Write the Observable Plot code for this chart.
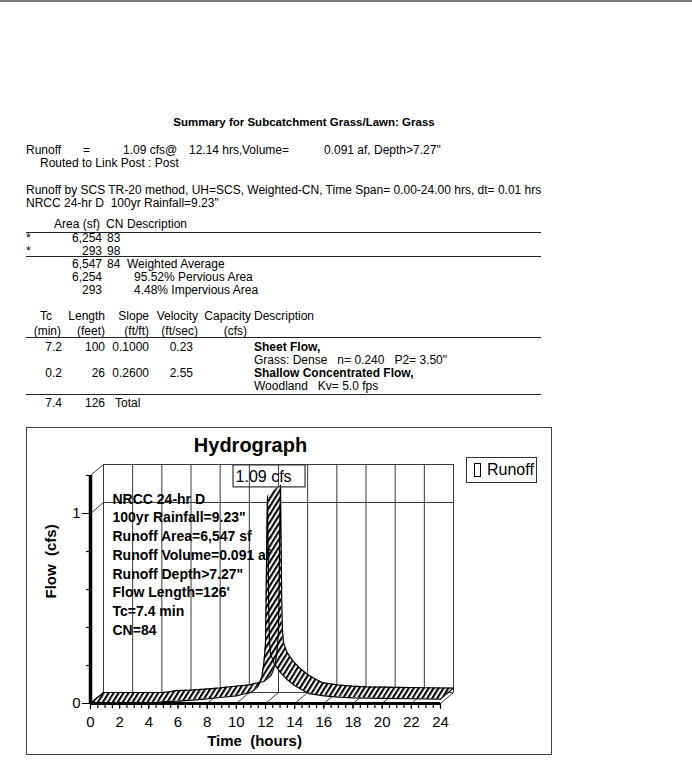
<!DOCTYPE html>
<html><head><meta charset="utf-8">
<script src="https://cdn.jsdelivr.net/npm/d3@7"></script>
<script src="https://cdn.jsdelivr.net/npm/@observablehq/plot@0.6"></script>
<style>
html,body{margin:0;padding:0;background:#fff;}
#page{position:relative;width:692px;height:761px;overflow:hidden;font-family:"Liberation Sans",Arial,sans-serif;font-size:12px;color:#000;}
.t{position:absolute;white-space:pre;line-height:1;transform:translateY(-50%);}
.hr{position:absolute;height:0;border-top:1.5px solid #222;}
#chart{position:absolute;left:26px;top:427px;width:526px;height:328px;}
#frame{position:absolute;left:26px;top:427px;width:526px;height:328px;box-sizing:border-box;border:1px solid #444;pointer-events:none;}
#legend{position:absolute;left:466px;top:457px;width:71px;height:26px;box-sizing:border-box;border:1px solid #333;overflow:hidden;background:#fff;}
#legend .sw{position:absolute;left:7px;top:5px;width:7px;height:14px;box-sizing:border-box;border:1px solid #000;}
#legend .lb{position:absolute;left:20px;top:12px;transform:translateY(-50%);font-size:16px;line-height:1;white-space:pre;}
</style></head><body><div id="page"><div id="chart"></div><div id="frame"></div></div>
<script>
// ---------------- data ----------------
const reportTitle = "Summary for Subcatchment Grass/Lawn: Grass";
const runoffLine = ["Runoff", "=", "1.09 cfs@", "12.14 hrs,", "Volume=", "0.091 af,", "Depth>7.27\""];
const routedLine = "Routed to Link Post : Post";
const methodLines = ["Runoff by SCS TR-20 method, UH=SCS, Weighted-CN, Time Span= 0.00-24.00 hrs, dt= 0.01 hrs",
                     "NRCC 24-hr D  100yr Rainfall=9.23\""];
const areaHeader = ["Area (sf)", "CN", "Description"];
const areaRows = [["*", "6,254", "83"], ["*", "293", "98"]];
const areaSummary = [["6,547", "84", "Weighted Average"], ["6,254", "", "95.52% Pervious Area"], ["293", "", "4.48% Impervious Area"]];
const tcHeader1 = ["Tc", "Length", "Slope", "Velocity", "Capacity", "Description"];
const tcHeader2 = ["(min)", "(feet)", "(ft/ft)", "(ft/sec)", "(cfs)"];
const tcRows = [
  {tc: "7.2", len: "100", slope: "0.1000", vel: "0.23", desc: "Sheet Flow,", sub: "Grass: Dense   n= 0.240   P2= 3.50\""},
  {tc: "0.2", len: "26", slope: "0.2600", vel: "2.55", desc: "Shallow Concentrated Flow,", sub: "Woodland   Kv= 5.0 fps"}
];
const tcTotal = ["7.4", "126", "Total"];

// hydrograph (hours, cfs)
const times = [0,1,2,3,4,4.5,5,6,7,8,9,10,10.5,11,11.5,11.75,11.9,12,12.05,12.1,12.14,12.18,12.22,12.27,12.35,12.6,13,13.5,14,14.5,15,16,17,18,20,22,24];
const flows = [0,0,0,0,0,0.003,0.01,0.013,0.018,0.024,0.033,0.04,0.05,0.058,0.09,0.14,0.22,0.32,0.6,0.95,1.09,0.8,0.5,0.33,0.26,0.21,0.165,0.125,0.095,0.072,0.052,0.04,0.034,0.03,0.027,0.025,0.023];
const majorHours = [0,2,4,6,8,10,12,14,16,18,20,22,24];
const minorHours = d3.range(0, 24.001, 0.5);
const majorFlows = [0, 1];
const minorFlows = [0.2, 0.4, 0.6, 0.8, 1.2];
const backFlowGrid = [0, 1, 1.2];
const stormLines = ["NRCC 24-hr D", "100yr Rainfall=9.23\"", "Runoff Area=6,547 sf", "Runoff Volume=0.091 af",
                    "Runoff Depth>7.27\"", "Flow Length=126'", "Tc=7.4 min", "CN=84"];
const chartTitle = "Hydrograph";
const xTitle = "Time  (hours)";
const yTitle = "Flow  (cfs)";
const legendLabel = "Runoff";
const peak = {t: 12.14, q: 1.09};

// ---------------- report text ----------------
const page = document.getElementById("page");
function txt(s, x, y, o = {}) {
  const d = document.createElement("div");
  d.className = "t";
  d.textContent = s;
  if (o.align === "right") d.style.right = (692 - x) + "px";
  else d.style.left = x + "px";
  if (o.align === "center") d.style.transform = "translate(-50%,-50%)";
  d.style.top = y + "px";
  if (o.bold) d.style.fontWeight = "bold";
  if (o.size) d.style.fontSize = o.size + "px";
  page.appendChild(d);
}
function hr(x1, x2, y) {
  const d = document.createElement("div");
  d.className = "hr";
  d.style.left = x1 + "px"; d.style.width = (x2 - x1) + "px"; d.style.top = y + "px";
  page.appendChild(d);
}
const topRule = document.createElement("div");
topRule.style.cssText = "position:absolute;left:0;top:0;width:692px;height:2px;background:#7a7a7a;";
page.appendChild(topRule);

txt(reportTitle, 304, 123, {align: "center", bold: true, size: 11.5});
const l1x = [26, 83, 123, 189, 242, 324, 374];
runoffLine.forEach((s, i) => txt(s, l1x[i], 150));
txt(routedLine, 40, 163);
txt(methodLines[0], 26, 190);
txt(methodLines[1], 26, 202.5);
txt(areaHeader[0], 100, 224, {align: "right"});
txt(areaHeader[1], 106, 224);
txt(areaHeader[2], 127, 224);
hr(26, 541, 232);
areaRows.forEach((r, i) => {
  const y = 238 + i * 13;
  txt(r[0], 26, y);
  txt(r[1], 102, y, {align: "right"});
  txt(r[2], 107, y);
});
hr(26, 541, 256);
areaSummary.forEach((r, i) => {
  const y = 264 + i * 13.2;
  txt(r[0], 102, y, {align: "right"});
  if (r[1]) txt(r[1], 107, y);
  txt(r[2], i === 0 ? 127 : 134, y);
});
const tcRight = [52, 105, 149, 198, 251];
tcHeader1.slice(0, 5).forEach((s, i) => txt(s, tcRight[i], 316, {align: "right"}));
txt(tcHeader1[5], 254, 316);
const tcRight2 = [61, 105, 149, 198, 247];
tcHeader2.forEach((s, i) => txt(s, tcRight2[i], 330.5, {align: "right"}));
hr(26, 541, 337);
tcRows.forEach((r, i) => {
  const y = 346.5 + i * 26.3;
  txt(r.tc, 62, y, {align: "right"});
  txt(r.len, 105, y, {align: "right"});
  txt(r.slope, 149, y, {align: "right"});
  txt(r.vel, 193, y, {align: "right"});
  txt(r.desc, 254, y, {bold: true});
  txt(r.sub, 254, y + 13);
});
hr(26, 541, 393.5);
txt(tcTotal[0], 62, 402.5, {align: "right"});
txt(tcTotal[1], 105, 402.5, {align: "right"});
txt(tcTotal[2], 115, 402.5);

// ---------------- chart ----------------
const W = 526, H = 328, ML = 64, MR = 112, MT = 48, MB = 52;
const X_MAX = 24, Y_MAX = 1.2;
const DEPTH_X = 13, DEPTH_Y = 11;
const plotW = W - ML - MR, plotH = H - MT - MB;
const dT = DEPTH_X / (plotW / X_MAX), dQ = DEPTH_Y / (plotH / Y_MAX);
const series = times.map((t, i) => ({t, q: flows[i]}));
const quads = [];
for (let i = 0; i < series.length - 1; i++) {
  for (const p of [series[i], series[i + 1]]) quads.push({seg: i, t: p.t, q: p.q, tb: p.t + dT, qb: p.q + dQ});
}
const ends = [series[0], series[series.length - 1]];
const gridC = "#3a3a3a";

const svg = Plot.plot({
  width: W, height: H, marginLeft: ML, marginRight: MR, marginTop: MT, marginBottom: MB,
  style: {fontFamily: "'Liberation Sans', Arial, sans-serif", fontSize: "15px", background: "transparent", color: "#000"},
  x: {domain: [0, X_MAX], ticks: majorHours, tickSize: 6, tickPadding: 7, tickFormat: d => `${d}`, label: null},
  y: {domain: [0, Y_MAX], ticks: majorFlows, tickSize: 8, tickPadding: 2, tickFormat: d => `${d}`, label: null},
  marks: [
    Plot.ruleX(majorHours, {x: d => d, y1: 0, y2: Y_MAX, dx: DEPTH_X, dy: -DEPTH_Y, stroke: gridC, strokeWidth: 1}),
    Plot.ruleY(backFlowGrid, {y: d => d, x1: 0, x2: X_MAX, dx: DEPTH_X, dy: -DEPTH_Y, stroke: gridC, strokeWidth: 1}),
    Plot.link(backFlowGrid, {x1: 0, y1: d => d, x2: dT, y2: d => d + dQ, stroke: gridC, strokeWidth: 1}),
    Plot.link(majorHours, {x1: d => d, y1: 0, x2: d => d + dT, y2: dQ, stroke: gridC, strokeWidth: 1}),
    Plot.area(quads, {x1: "t", y1: "q", x2: "tb", y2: "qb", z: "seg", fill: "url(#hatch)", stroke: "none"}),
    Plot.line(series, {x: "t", y: "q", stroke: "#000", strokeWidth: 1.2}),
    Plot.line(series, {x: "t", y: "q", dx: DEPTH_X, dy: -DEPTH_Y, stroke: "#000", strokeWidth: 1.2}),
    Plot.link(ends, {x1: "t", y1: "q", x2: d => d.t + dT, y2: d => d.q + dQ, stroke: "#000", strokeWidth: 1.2}),
    Plot.ruleY([0], {x1: 0, x2: X_MAX, stroke: "#000", strokeWidth: 3}),
    Plot.ruleX([0], {y1: 0, y2: Y_MAX, stroke: "#000", strokeWidth: 3.5}),
    Plot.ruleX(minorHours, {x: d => d, insetTop: plotH, insetBottom: -5, stroke: "#000", strokeWidth: 1.2}),
    Plot.ruleY(minorFlows, {y: d => d, insetRight: plotW, insetLeft: -4, stroke: "#000", strokeWidth: 1.2}),
    Plot.text([chartTitle], {frameAnchor: "top", lineAnchor: "middle", dx: -15, dy: -30, fontSize: 20, fontWeight: "bold"}),
    Plot.text([xTitle], {frameAnchor: "bottom", lineAnchor: "middle", dx: -11, dy: 38, fontSize: 15, fontWeight: "bold"}),
    Plot.text([yTitle], {frameAnchor: "left", dx: -39, dy: 9, rotate: -90, fontSize: 15, fontWeight: "bold"}),
    Plot.rect([peak], {x1: "t", x2: "t", y1: "q", y2: "q", insetLeft: -34, insetRight: -38, insetTop: -31, insetBottom: 9, fill: "none", stroke: "#333", strokeWidth: 1.2}),
    Plot.text([peak], {x: "t", y: "q", text: d => `${d.q} cfs`, dx: -32, dy: -20, textAnchor: "start", fontSize: 16}),
    Plot.text([stormLines.join("\n")], {frameAnchor: "top-left", textAnchor: "start", lineAnchor: "top", lineHeight: 1.336, dx: 22, dy: 15, fontSize: 14, fontWeight: "bold"})
  ]
});
const ns = "http://www.w3.org/2000/svg";
const defs = document.createElementNS(ns, "defs");
const pat = document.createElementNS(ns, "pattern");
pat.setAttribute("id", "hatch");
pat.setAttribute("patternUnits", "userSpaceOnUse");
pat.setAttribute("width", "4.2");
pat.setAttribute("height", "10");
pat.setAttribute("patternTransform", "rotate(32)");
const bg = document.createElementNS(ns, "rect");
bg.setAttribute("width", "4.2"); bg.setAttribute("height", "10"); bg.setAttribute("fill", "#fff");
const ln = document.createElementNS(ns, "rect");
ln.setAttribute("x", "0"); ln.setAttribute("width", "2.1"); ln.setAttribute("height", "10"); ln.setAttribute("fill", "#000");
pat.appendChild(bg); pat.appendChild(ln); defs.appendChild(pat);
svg.insertBefore(defs, svg.firstChild);
document.getElementById("chart").appendChild(svg);

const lg = document.createElement("div");
lg.id = "legend";
lg.innerHTML = `<div class="sw"></div><div class="lb"></div>`;
lg.querySelector(".lb").textContent = legendLabel;
page.appendChild(lg);
</script></body></html>
